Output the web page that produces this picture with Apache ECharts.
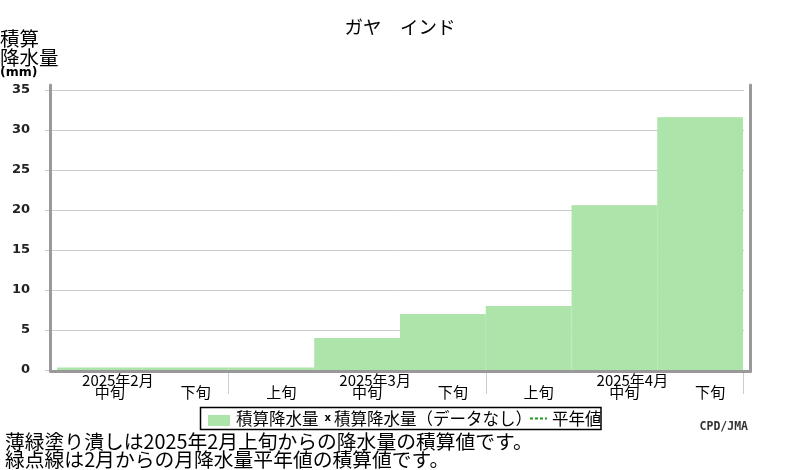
<!DOCTYPE html>
<html>
<head>
<meta charset="utf-8">
<script src="https://cdn.jsdelivr.net/npm/echarts@6/dist/echarts.min.js"></script>
<style>html,body{margin:0;padding:0;background:#fff;}#c{width:800px;height:470px;}</style>
</head>
<body>
<div id="c"></div>
<script>
// ---- data ----
const categories = ['2025年2月中旬','2025年2月下旬','2025年3月上旬','2025年3月中旬','2025年3月下旬','2025年4月上旬','2025年4月中旬','2025年4月下旬'];
const dekadLabels = ['中旬','下旬','上旬','中旬','下旬','上旬','中旬','下旬'];
const monthLabels = ['2025年2月','','','2025年3月','','','2025年4月',''];
const accumPrecip = [0.3, 0.3, 0.3, 4.0, 7.0, 8.0, 20.6, 31.6];
const yTicks = {min: 0, max: 35, interval: 5};
const titleText = 'ガヤ　インド';
const yName1 = '積算\n降水量';
const yName2 = '(mm)';
const legendNames = ['積算降水量', '積算降水量（データなし）', '平年値'];
const note1 = '薄緑塗り潰しは2025年2月上旬からの降水量の積算値です。';
const note2 = '緑点線は2月からの月降水量平年値の積算値です。';
const credit = 'CPD/JMA';

const JP = '"Noto Sans CJK JP", sans-serif';
const barColor = '#ade4aa';
const frameLine = {show: true, onZero: false, lineStyle: {color: '#999', width: 3}};

const chart = echarts.init(document.getElementById('c'), null, {renderer: 'canvas'});
chart.setOption({
  animation: false,
  backgroundColor: '#fff',
  title: {
    text: titleText, left: 'center', top: 13,
    textStyle: {fontFamily: JP, fontSize: 18.5, fontWeight: 'normal', color: '#000'}
  },
  grid: [
    {left: 50.5, right: 49.5, top: 85, bottom: 99},
    {left: 57, right: 57, top: 90, bottom: 100},
    {left: 45, right: 56, top: 90, bottom: 100}
  ],
  xAxis: [
    {gridIndex: 0, type: 'value', min: 0, max: 1, z: 5, axisLine: frameLine,
     axisTick: {show: false}, axisLabel: {show: false}, splitLine: {show: false}},
    {gridIndex: 1, type: 'category', data: categories, boundaryGap: true, position: 'bottom',
     axisLine: {show: false},
     axisTick: {show: true, length: 24, interval: function (i) { return i === 2 || i === 5; },
                lineStyle: {color: '#ccc', width: 1}},
     axisLabel: {interval: 0, margin: 15, fontFamily: JP, fontSize: 15, color: '#000',
                 padding: [0, 0, 0, 20],
                 formatter: function (v, i) { return dekadLabels[i]; }},
     splitLine: {show: false}},
    {gridIndex: 1, type: 'category', data: categories, boundaryGap: true, position: 'bottom', offset: 0,
     axisLine: {show: false}, axisTick: {show: false},
     axisLabel: {interval: 0, margin: 3, fontFamily: JP, fontSize: 15, color: '#000',
                 padding: [0, 0, 0, 36],
                 formatter: function (v, i) { return monthLabels[i]; }},
     splitLine: {show: false}},
    {gridIndex: 2, type: 'value', min: 0, max: 1, show: false}
  ],
  yAxis: [
    {gridIndex: 0, type: 'value', min: 0, max: 1, position: 'left', z: 5, axisLine: frameLine,
     axisTick: {show: false}, axisLabel: {show: false}, splitLine: {show: false}},
    {gridIndex: 0, type: 'value', min: 0, max: 1, position: 'right', z: 5, axisLine: frameLine,
     axisTick: {show: false}, axisLabel: {show: false}, splitLine: {show: false}},
    {gridIndex: 1, type: 'value', min: yTicks.min, max: yTicks.max, interval: yTicks.interval, show: false},
    {gridIndex: 2, type: 'value', min: yTicks.min, max: yTicks.max, interval: yTicks.interval, z: 0,
     axisLine: {show: false}, axisTick: {show: false},
     axisLabel: {margin: 15, fontFamily: 'DejaVu Sans', fontWeight: 'bold', fontSize: 13, color: '#222'},
     splitLine: {show: true, lineStyle: {color: '#ccc', width: 1}}}
  ],
  series: [
    {name: legendNames[0], type: 'bar', xAxisIndex: 1, yAxisIndex: 2, data: accumPrecip,
     barCategoryGap: '0%', itemStyle: {color: barColor, borderColor: barColor, borderWidth: 1.2}, z: 2}
  ],
  graphic: [
    {type: 'text', left: 0, top: 29, style: {text: yName1, fontFamily: JP, fontSize: 19.5, lineHeight: 19, fill: '#000'}},
    {type: 'text', left: 0, top: 66, style: {text: yName2, fontFamily: 'DejaVu Sans', fontWeight: 'bold', fontSize: 12.5, fill: '#000'}},
    // legend
    {type: 'rect', shape: {x: 200.5, y: 407.5, width: 400.5, height: 22}, style: {fill: '#fff', stroke: '#000', lineWidth: 1.5}, z: 10},
    {type: 'rect', shape: {x: 208, y: 415, width: 22, height: 11}, style: {fill: barColor}, z: 11},
    {type: 'text', x: 236, y: 418.5, style: {text: legendNames[0], fontFamily: JP, fontSize: 16.5, fill: '#000', verticalAlign: 'middle'}, z: 11},
    {type: 'text', x: 324.5, y: 418, style: {text: 'x', fontFamily: 'DejaVu Sans', fontWeight: 'bold', fontSize: 10, fill: '#000', verticalAlign: 'middle'}, z: 11},
    {type: 'text', x: 334, y: 418.5, style: {text: legendNames[1], fontFamily: JP, fontSize: 16.5, fill: '#000', verticalAlign: 'middle'}, z: 11},
    {type: 'line', shape: {x1: 530, y1: 418.5, x2: 547, y2: 418.5}, style: {stroke: '#1f9a1f', lineWidth: 2, lineDash: [3, 2]}, z: 12},
    {type: 'text', x: 552, y: 418.5, style: {text: legendNames[2], fontFamily: JP, fontSize: 16.5, fill: '#000', verticalAlign: 'middle'}, z: 11},
    // notes
    {type: 'text', x: 5, y: 441, style: {text: note1, fontFamily: JP, fontSize: 19.8, fill: '#000', verticalAlign: 'middle'}},
    {type: 'text', x: 5, y: 459, style: {text: note2, fontFamily: JP, fontSize: 19.8, fill: '#000', verticalAlign: 'middle'}},
    {type: 'text', x: 748, y: 427, style: {text: credit, fontFamily: 'DejaVu Sans Mono', fontWeight: 'bold', fontSize: 11.5, fill: '#333', align: 'right', verticalAlign: 'middle'}}
  ]
});
</script>
</body>
</html>
